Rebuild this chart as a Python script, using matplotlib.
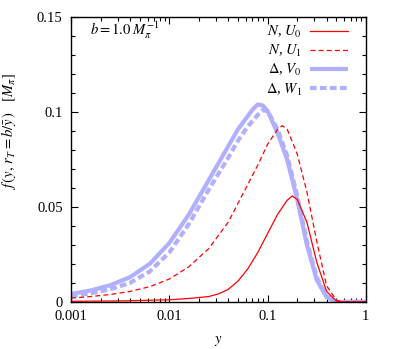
import matplotlib
matplotlib.use("Agg")
import matplotlib.pyplot as plt
from matplotlib.ticker import FixedLocator, FuncFormatter, MultipleLocator, LogLocator, NullFormatter

plt.rcParams['font.family'] = ['Liberation Serif', 'DejaVu Serif']
plt.rcParams['mathtext.fontset'] = 'stix'
plt.rcParams['font.size'] = 10.5

# N, U0 (red solid)
y_u0 = [0.001, 0.00316, 0.01, 0.0158, 0.0251, 0.0316, 0.0398, 0.0501, 0.0631, 0.0794,
        0.1, 0.126, 0.158, 0.178, 0.2, 0.251, 0.316, 0.398, 0.5, 0.562, 1.0]
f_u0 = [0.0003, 0.0005, 0.0011, 0.0018, 0.0028, 0.0042, 0.0066, 0.011, 0.0175, 0.026,
        0.036, 0.046, 0.0535, 0.0558, 0.054, 0.042, 0.021, 0.0055, 0.0005, 0.0, 0.0]

# N, U1 (red dashed)
y_u1 = [0.001, 0.00158, 0.00251, 0.00398, 0.00631, 0.01, 0.0158, 0.0251, 0.0398, 0.0501,
        0.0631, 0.0794, 0.1, 0.126, 0.141, 0.158, 0.2, 0.251, 0.316, 0.398, 0.5, 0.562, 1.0]
f_u1 = [0.002, 0.0028, 0.0039, 0.0055, 0.008, 0.012, 0.0185, 0.028, 0.042, 0.052,
        0.062, 0.072, 0.083, 0.0908, 0.0928, 0.091, 0.078, 0.058, 0.032, 0.0085, 0.001, 0.0, 0.0]

# Delta, V0 (blue solid)
y_v0 = [0.001, 0.00158, 0.00251, 0.00398, 0.00631, 0.01, 0.0158, 0.0251, 0.0398, 0.0501,
        0.0631, 0.0708, 0.0794, 0.0891, 0.1, 0.126, 0.158, 0.2, 0.251, 0.316,
        0.398, 0.5, 1.0]
f_v0 = [0.0042, 0.006, 0.0088, 0.013, 0.020, 0.031, 0.046, 0.064, 0.082, 0.091,
        0.098, 0.1015, 0.104, 0.1035, 0.1005, 0.089, 0.075, 0.054, 0.030, 0.0115,
        0.0025, 0.0, 0.0]

# Delta, W1 (blue dashed)
y_w1 = [0.001, 0.00158, 0.00251, 0.00398, 0.00631, 0.01, 0.0158, 0.0251, 0.0398, 0.0501,
        0.0631, 0.0794, 0.0891, 0.1, 0.126, 0.158, 0.2, 0.251, 0.316, 0.398,
        0.5, 1.0]
f_w1 = [0.003, 0.0045, 0.0067, 0.010, 0.016, 0.026, 0.041, 0.059, 0.076, 0.085,
        0.0925, 0.0985, 0.101, 0.1005, 0.091, 0.077, 0.056, 0.032, 0.013, 0.003,
        0.0, 0.0]

red = '#ff0000'
blue = '#b0b0ff'

fig = plt.figure(figsize=(3.99, 3.49), dpi=100)
ax = fig.add_axes([0.178, 0.135, 0.739, 0.816])

ax.plot(y_v0, f_v0, color=blue, lw=3.0, label=r'$\Delta$, $V_0$', solid_capstyle='butt')
ax.plot(y_w1, f_w1, color=blue, lw=3.0, ls=(0, (1.6, 0.8)), label=r'$\Delta$, $W_1$')
ax.plot(y_u0, f_u0, color=red, lw=0.9, label=r'$N$, $U_0$')
ax.plot(y_u1, f_u1, color=red, lw=0.9, ls=(0, (4.0, 2.5)), label=r'$N$, $U_1$')

ax.set_xscale('log')
ax.set_xlim(0.001, 1)
ax.set_ylim(0, 0.15)

xlabels = {0.001: '0.001', 0.01: '0.01', 0.1: '0.1', 1: '1'}
ylabels = {0: '0', 0.05: '0.05', 0.1: '0.1', 0.15: '0.15'}
ax.xaxis.set_major_locator(FixedLocator(list(xlabels)))
ax.xaxis.set_major_formatter(FuncFormatter(lambda v, p: xlabels.get(round(v, 3), '')))
ax.xaxis.set_minor_locator(LogLocator(base=10, subs=range(2, 10)))
ax.xaxis.set_minor_formatter(NullFormatter())
ax.yaxis.set_major_locator(FixedLocator(list(ylabels)))
ax.yaxis.set_major_formatter(FuncFormatter(lambda v, p: ylabels.get(round(v, 2), '')))
ax.yaxis.set_minor_locator(MultipleLocator(0.01))

ax.tick_params(which='both', direction='in', top=True, right=True, width=0.8, pad=6)
ax.tick_params(which='major', length=5)
ax.tick_params(which='minor', length=3)
for s in ax.spines.values():
    s.set_linewidth(1.0)

ax.set_xlabel(r'$y$', labelpad=8)
ax.set_ylabel(r'$f\,(y,\, r_T = b/\bar{y}\,)$   $[M_\pi]$')
ax.yaxis.set_label_coords(-0.18, 0.6)

ax.text(0.065, 0.955, r'$b = 1.0\;M_\pi^{-1}$', transform=ax.transAxes, va='center', ha='left')

h, l = ax.get_legend_handles_labels()
order = [2, 3, 0, 1]
leg = ax.legend([h[i] for i in order], [l[i] for i in order], loc='upper right',
                bbox_to_anchor=(0.96, 0.995), borderaxespad=0,
                frameon=False, markerfirst=False, handlelength=2.6,
                labelspacing=0.2, handletextpad=0.6)
for t in leg.get_texts():
    t.set_ha('right')

fig.savefig('out.png', dpi=100)
